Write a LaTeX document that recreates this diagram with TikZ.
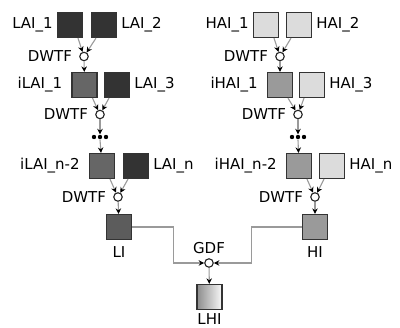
\documentclass[tikz,border=0pt]{standalone}
\usepackage{fontspec}
\setmainfont{DejaVu Sans}
\usetikzlibrary{arrows.meta}
\definecolor{boxedge}{HTML}{333333}
\definecolor{junctionedge}{HTML}{222222}
\definecolor{linegray}{HTML}{9A9A9A}
\definecolor{lowdark}{HTML}{333333}
\definecolor{lowmid}{HTML}{666666}
\definecolor{lowout}{HTML}{5C5C5C}
\definecolor{highlight}{HTML}{DCDCDC}
\definecolor{highmid}{HTML}{9A9A9A}
\begin{document}
\begin{tikzpicture}[x=1pt,y=-1pt,
  box/.style={draw=boxedge, line width=1.2pt, minimum size=25pt, inner sep=0pt},
  junction/.style={circle, draw=junctionedge, fill=white, line width=1.1pt, minimum size=8.5pt, inner sep=0pt},
  lbl/.style={inner sep=0pt, font=\fontsize{15}{18}\selectfont},
  conn/.style={draw=linegray, line width=1.1pt, -{Stealth[length=5.5pt,width=5.5pt,color=black]}},
  dotrow/.style={minimum width=16pt, minimum height=5pt, inner sep=0pt}
]
\useasboundingbox (0,0) rectangle (400,328);

% ---------- low-frequency branch ----------
\node[box, fill=lowdark] (lai1) at (70,25) {};
\node[box, fill=lowdark] (lai2) at (104,25) {};
\node[junction] (dwl1) at (84,56.5) {};
\node[box, fill=lowmid] (ilai1) at (84.5,85) {};
\node[box, fill=lowdark] (lai3) at (117,85) {};
\node[junction] (dwl2) at (100,114.5) {};
\node[dotrow] (dotsl) at (100,137) {};
\node[box, fill=lowmid] (ilain) at (102,166) {};
\node[box, fill=lowdark] (lain) at (136,166) {};
\node[junction] (dwl3) at (118,197) {};
\node[box, fill=lowout] (li) at (119,227) {};

% ---------- high-frequency branch ----------
\node[box, fill=highlight] (hai1) at (266,25) {};
\node[box, fill=highlight] (hai2) at (299,25) {};
\node[junction] (dwh1) at (280,56.5) {};
\node[box, fill=highmid] (ihai1) at (280,85) {};
\node[box, fill=highlight] (hai3) at (312,85) {};
\node[junction] (dwh2) at (298,114.5) {};
\node[dotrow] (dotsh) at (298,137) {};
\node[box, fill=highmid] (ihain) at (299,166) {};
\node[box, fill=highlight] (hain) at (332,166) {};
\node[junction] (dwh3) at (315,197) {};
\node[box, fill=highmid] (hi) at (315,227) {};

% ---------- fusion ----------
\node[junction] (gdf) at (209,263) {};
\node[box, left color=gray!90, right color=white!95!gray] (lhi) at (209.5,297) {};

% ellipsis dots
\foreach \d in {dotsl,dotsh}
  \foreach \dx in {-6,0,6}
    \fill ([xshift=\dx pt]\d.center) circle (2.2pt);

% ---------- labels ----------
\node[lbl, anchor=east] (tlai1) at ([xshift=-4pt]lai1.west) {LAI\_1};
\node[lbl, anchor=west] (tlai2) at ([xshift=4pt]lai2.east) {LAI\_2};
\node[lbl, anchor=east] (tdwl1) at ([xshift=-7pt]dwl1.west) {DWTF};
\node[lbl, anchor=east] (tilai1) at ([xshift=-9pt]ilai1.west) {iLAI\_1};
\node[lbl, anchor=west] (tlai3) at ([xshift=4pt]lai3.east) {LAI\_3};
\node[lbl, anchor=east] (tdwl2) at ([xshift=-7pt]dwl2.west) {DWTF};
\node[lbl, anchor=east] (tilain) at ([xshift=-9pt]ilain.west) {iLAI\_n-2};
\node[lbl, anchor=west] (tlain) at ([xshift=4pt]lain.east) {LAI\_n};
\node[lbl, anchor=east] (tdwl3) at ([xshift=-7pt]dwl3.west) {DWTF};
\node[lbl, anchor=north] (tli) at ([yshift=-6pt]li.south) {LI};

\node[lbl, anchor=east] (thai1) at ([xshift=-4pt]hai1.west) {HAI\_1};
\node[lbl, anchor=west] (thai2) at ([xshift=4pt]hai2.east) {HAI\_2};
\node[lbl, anchor=east] (tdwh1) at ([xshift=-7pt]dwh1.west) {DWTF};
\node[lbl, anchor=east] (tihai1) at ([xshift=-9pt]ihai1.west) {iHAI\_1};
\node[lbl, anchor=west] (thai3) at ([xshift=4pt]hai3.east) {HAI\_3};
\node[lbl, anchor=east] (tdwh2) at ([xshift=-7pt]dwh2.west) {DWTF};
\node[lbl, anchor=east] (tihain) at ([xshift=-9pt]ihain.west) {iHAI\_n-2};
\node[lbl, anchor=west] (thain) at ([xshift=4pt]hain.east) {HAI\_n};
\node[lbl, anchor=east] (tdwh3) at ([xshift=-7pt]dwh3.west) {DWTF};
\node[lbl, anchor=north] (thi) at ([yshift=-6pt]hi.south) {HI};

\node[lbl, anchor=south] (tgdf) at ([yshift=4pt]gdf.north) {GDF};
\node[lbl, anchor=north] (tlhi) at ([yshift=-3.5pt]lhi.south) {LHI};

% ---------- connectors: low branch ----------
\draw[conn] ([xshift=8pt]lai1.south) -- (dwl1);
\draw[conn] ([xshift=-8pt]lai2.south) -- (dwl1);
\draw[conn] (dwl1) -- (ilai1);
\draw[conn] ([xshift=8pt]ilai1.south) -- (dwl2);
\draw[conn] ([xshift=-8pt]lai3.south) -- (dwl2);
\draw[conn] (dwl2) -- (dotsl.north);
\draw[conn] (dotsl.south) -- (ilain);
\draw[conn] ([xshift=8pt]ilain.south) -- (dwl3);
\draw[conn] ([xshift=-8pt]lain.south) -- (dwl3);
\draw[conn] (dwl3) -- (li);

% ---------- connectors: high branch ----------
\draw[conn] ([xshift=8pt]hai1.south) -- (dwh1);
\draw[conn] ([xshift=-8pt]hai2.south) -- (dwh1);
\draw[conn] (dwh1) -- (ihai1);
\draw[conn] ([xshift=8pt]ihai1.south) -- (dwh2);
\draw[conn] ([xshift=-8pt]hai3.south) -- (dwh2);
\draw[conn] (dwh2) -- (dotsh.north);
\draw[conn] (dotsh.south) -- (ihain);
\draw[conn] ([xshift=8pt]ihain.south) -- (dwh3);
\draw[conn] ([xshift=-8pt]hain.south) -- (dwh3);
\draw[conn] (dwh3) -- (hi);

% ---------- connectors: fusion ----------
\draw[conn] (li.east) -- ++(41.5,0) |- (gdf.west);
\draw[conn] (hi.west) -- ++(-50,0) |- (gdf.east);
\draw[conn] (gdf) -- (lhi);
\end{tikzpicture}
\end{document}
